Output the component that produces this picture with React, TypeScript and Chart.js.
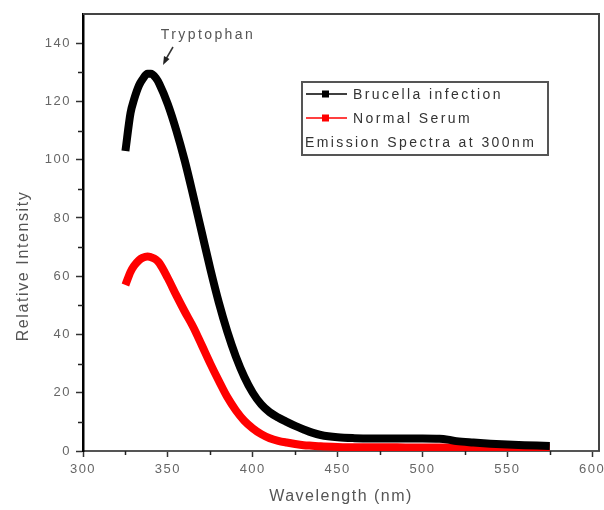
import React, { useEffect, useRef } from "react";
import { Chart, registerables } from "chart.js";

Chart.register(...registerables);

const wavelengths = [325, 328, 330, 333, 335, 338, 340, 343, 345, 350, 355, 360, 365, 370, 375, 380, 385, 390, 395, 400, 405, 410, 415, 420, 425, 430, 435, 440, 450, 460, 470, 480, 490, 500, 510, 515, 520, 530, 540, 550, 560, 575];
const brucellaValues = [103, 116, 120.5, 125.5, 127.5, 129.5, 129.5, 128, 126, 119, 110, 99.5, 87.5, 75, 62.5, 51, 41, 32.5, 25.5, 20, 16, 13.3, 11.5, 10, 8.6, 7.4, 6.3, 5.5, 4.7, 4.4, 4.3, 4.3, 4.3, 4.3, 4.2, 3.9, 3.4, 2.9, 2.5, 2.2, 2.0, 1.7];
const normalValues = [57, 61.5, 63.5, 65.5, 66.3, 66.8, 66.5, 65.7, 64.5, 59.3, 53.4, 47.8, 42.5, 36.3, 30, 24.1, 18.5, 14, 10.4, 7.8, 5.8, 4.4, 3.5, 2.9, 2.4, 2.0, 1.8, 1.6, 1.4, 1.3, 1.3, 1.3, 1.2, 1.2, 1.2, 1.2, 1.2, 1.2, 1.2, 1.2, 1.1, 1.1];

const xTicks = [300, 350, 400, 450, 500, 550, 600];
const xMinorTicks = [325, 375, 425, 475, 525, 575];
const yTicks = [0, 20, 40, 60, 80, 100, 120, 140];
const yMinorTicks = [10, 30, 50, 70, 90, 110, 130];

const seriesLabels = ["Brucella infection", "Normal Serum"];
const seriesColors = ["#000000", "#ff0000"];
const legendNote = "Emission Spectra at 300nm";
const peakLabel = "Tryptophan";
const xTitle = "Wavelength (nm)";
const yTitle = "Relative Intensity";

const FONT = "'Liberation Sans', Arial, sans-serif";

const spacingPlugin = {
  id: "spacing",
  beforeUpdate(chart: any) {
    chart.ctx.letterSpacing = "1.5px";
  },
  beforeDraw(chart: any) {
    chart.ctx.letterSpacing = "1.5px";
  },
};

const decorPlugin = {
  id: "decor",
  afterDraw(chart: any) {
    const { ctx, chartArea: a, scales } = chart;
    const xs = scales.x;
    const ys = scales.y;
    ctx.save();
    // minor ticks
    ctx.strokeStyle = "#222";
    ctx.lineWidth = 1.5;
    ctx.beginPath();
    for (const v of yMinorTicks) {
      const py = Math.round(ys.getPixelForValue(v)) + 0.5;
      ctx.moveTo(a.left - 5, py);
      ctx.lineTo(a.left, py);
    }
    for (const v of xMinorTicks) {
      const px = Math.round(xs.getPixelForValue(v)) + 0.5;
      ctx.moveTo(px, a.bottom);
      ctx.lineTo(px, a.bottom + 4);
    }
    ctx.stroke();

    // frame top/right
    ctx.strokeStyle = "#444";
    ctx.lineWidth = 2;
    ctx.beginPath();
    ctx.moveTo(a.left, a.top);
    ctx.lineTo(a.right, a.top);
    ctx.lineTo(a.right, a.bottom);
    ctx.stroke();

    // y title
    ctx.save();
    ctx.letterSpacing = "1.6px";
    ctx.font = `16px ${FONT}`;
    ctx.fillStyle = "#555";
    ctx.textAlign = "center";
    ctx.textBaseline = "middle";
    ctx.translate(24, 266);
    ctx.rotate(-Math.PI / 2);
    ctx.fillText(yTitle, 0, 0);
    ctx.restore();

    // legend box
    const bx = 302, by = 82, bw = 246, bh = 73;
    ctx.strokeStyle = "#555";
    ctx.lineWidth = 2;
    ctx.strokeRect(bx, by, bw, bh);
    ctx.letterSpacing = "2.4px";
    ctx.font = `14px ${FONT}`;
    ctx.textBaseline = "middle";
    ctx.textAlign = "left";
    const rows = [94, 118];
    seriesLabels.forEach((lab, i) => {
      const y = rows[i];
      ctx.strokeStyle = seriesColors[i];
      ctx.lineWidth = 1.5;
      ctx.beginPath();
      ctx.moveTo(306, y);
      ctx.lineTo(347, y);
      ctx.stroke();
      ctx.fillStyle = seriesColors[i];
      ctx.fillRect(322, y - 3.5, 7, 7);
      ctx.fillStyle = "#333";
      ctx.fillText(lab, 353, y + 1);
    });
    ctx.fillStyle = "#333";
    ctx.fillText(legendNote, 305, 143);

    // annotation
    ctx.fillStyle = "#555";
    ctx.textAlign = "center";
    ctx.fillText(peakLabel, 208, 35);
    ctx.strokeStyle = "#333";
    ctx.lineWidth = 1.5;
    ctx.beginPath();
    ctx.moveTo(173, 47);
    ctx.lineTo(166, 59);
    ctx.stroke();
    ctx.fillStyle = "#222";
    ctx.beginPath();
    ctx.moveTo(163, 65);
    ctx.lineTo(164, 56);
    ctx.lineTo(169.5, 59);
    ctx.closePath();
    ctx.fill();
    ctx.restore();
  },
};

export default function App() {
  const ref = useRef<HTMLCanvasElement | null>(null);
  useEffect(() => {
    document.body.style.margin = "0";
    const canvas = ref.current!;
    const chart = new Chart(canvas, {
      type: "line",
      data: {
        datasets: [
          {
            label: seriesLabels[0],
            data: wavelengths.map((w, i) => ({ x: w, y: brucellaValues[i] })),
            borderColor: seriesColors[0],
            backgroundColor: seriesColors[0],
            borderWidth: 8,
            pointRadius: 0,
            cubicInterpolationMode: "monotone",
            borderJoinStyle: "round",
          },
          {
            label: seriesLabels[1],
            data: wavelengths.map((w, i) => ({ x: w, y: normalValues[i] })),
            borderColor: seriesColors[1],
            backgroundColor: seriesColors[1],
            borderWidth: 8,
            pointRadius: 0,
            cubicInterpolationMode: "monotone",
            borderJoinStyle: "round",
          },
        ],
      },
      options: {
        animation: false,
        responsive: false,
        devicePixelRatio: 1,
        layout: { padding: { top: 14, right: 5, left: 0, bottom: 0 } },
        plugins: { legend: { display: false }, tooltip: { enabled: false } },
        scales: {
          x: {
            type: "linear",
            min: 300,
            max: 604,
            afterFit: (s: any) => {
              s.height = 59;
              s.paddingLeft = 0;
              s.paddingRight = 0;
            },
            afterBuildTicks: (s: any) => {
              s.ticks = xTicks.map((v) => ({ value: v }));
            },
            ticks: {
              color: "#666",
              font: { family: FONT, size: 13 },
              padding: 5,
              maxRotation: 0,
              autoSkip: false,
            },
            grid: {
              drawOnChartArea: false,
              drawTicks: true,
              tickLength: 6,
              tickColor: "#333",
              tickWidth: 1.5,
            },
            border: { color: "#555", width: 2 },
            title: {
              display: true,
              text: xTitle,
              color: "#555",
              font: { family: FONT, size: 16 },
              padding: { top: 0, bottom: 4 },
            },
          },
          y: {
            type: "linear",
            min: 0,
            max: 150,
            afterFit: (s: any) => {
              s.width = 83;
              s.paddingTop = 0;
              s.paddingBottom = 0;
            },
            afterBuildTicks: (s: any) => {
              s.ticks = yTicks.map((v) => ({ value: v }));
            },
            ticks: {
              color: "#666",
              font: { family: FONT, size: 13 },
              padding: 5,
            },
            grid: {
              drawOnChartArea: false,
              drawTicks: true,
              tickLength: 7,
              tickColor: "#333",
              tickWidth: 1.5,
            },
            border: { color: "#000", width: 2.5 },
            title: { display: false },
          },
        },
      },
      plugins: [spacingPlugin, decorPlugin],
    });
    return () => chart.destroy();
  }, []);
  return <canvas ref={ref} width={604} height={510} style={{ display: "block", width: 604, height: 510 }} />;
}
